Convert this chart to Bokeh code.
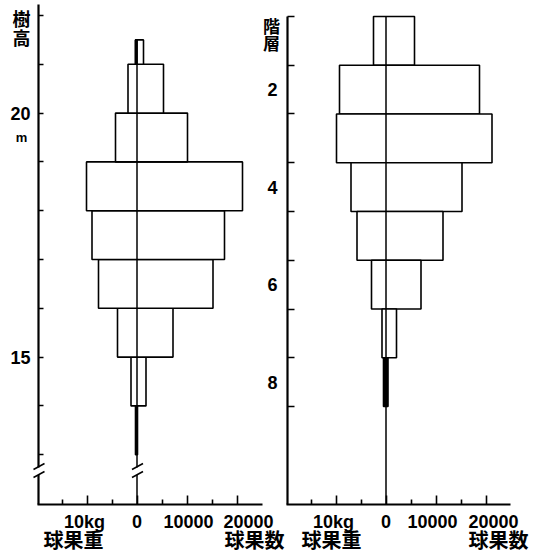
from bokeh.plotting import figure
from bokeh.models import Range1d, LinearAxis, FixedTicker, Label
from bokeh.embed import file_html
from bokeh.resources import INLINE

# ---------------- data ----------------
# left panel: by tree height (m)
height_bottom_m = [13, 14, 15, 16, 17, 18, 19, 20, 21]
height_top_m = [14, 15, 16, 17, 18, 19, 20, 21, 21.5]
height_weight_kg = [0.3, 1.2, 3.9, 7.7, 9.0, 10.1, 4.3, 1.8, 0.3]
height_count = [100, 1800, 7200, 15200, 17500, 21100, 10100, 5300, 1300]

# right panel: by crown layer (1 = top)
layers = [1, 2, 3, 4, 5, 6, 7, 8]
layer_weight_kg = [2.5, 9.3, 9.9, 7.0, 5.8, 2.9, 0.8, 0.5]
layer_count = [5700, 18700, 21200, 15200, 11400, 7000, 2100, 400]

x_tick_values = [-10000, 0, 10000, 20000]
x_tick_labels = ["10kg", "0", "10000", "20000"]
x_minor_values = [-15000, -5000, 5000, 15000]
height_label_ticks = [15, 20]
height_minor_ticks = [13, 14, 16, 17, 18, 19, 21, 22]
layer_label_ticks = [2, 4, 6, 8]
layer_boundaries = [0.5, 1.5, 2.5, 3.5, 4.5, 5.5, 6.5, 7.5, 8.5]

KG = 1000  # 1 kg drawn as long as 1000 cones

# ---------------- scales ----------------
PX_X = 200.0          # data units per pixel (both panels)
PX_H = 1 / 48.8       # metres per pixel

FONT = "Liberation Sans"
CJK = "Noto Sans CJK JP"

p = figure(width=539, height=553, output_backend="svg", toolbar_location=None,
           x_axis_location=None, y_axis_location=None,
           x_range=Range1d(-27300, 80500), y_range=Range1d(10.975, 22.307),
           min_border=0, min_border_left=0, min_border_right=0,
           min_border_top=0, min_border_bottom=0)
p.extra_x_ranges = {"r": Range1d(-77100, 30700)}
p.extra_y_ranges = {"r": Range1d(11.515, 0.172)}
p.outline_line_color = None
p.background_fill_color = "white"
p.border_fill_color = "white"
p.grid.visible = False

h_axis_x = -19700
h_base = 11.979
h_top = 22.225
l_axis_x = -19700
l_base = 10.51


def style_axis(ax):
    ax.axis_line_color = "black"
    ax.axis_line_width = 2.2
    ax.major_tick_line_color = "black"
    ax.major_tick_line_width = 1.6
    ax.minor_tick_line_color = "black"
    ax.minor_tick_line_width = 1.6
    ax.major_tick_out = 0
    ax.minor_tick_out = 0
    ax.major_label_text_font = FONT
    ax.major_label_text_font_style = "bold"
    ax.major_label_text_font_size = "18px"
    ax.major_label_text_color = "black"


# left panel y axis (height)
ax_h = LinearAxis(fixed_location=h_axis_x, bounds=(h_base, h_top),
                  ticker=FixedTicker(ticks=height_label_ticks, minor_ticks=height_minor_ticks))
style_axis(ax_h)
ax_h.major_tick_in = 5
ax_h.minor_tick_in = 5
ax_h.major_label_standoff = 8
p.add_layout(ax_h, "left")

# right panel y axis (layers)
ax_l = LinearAxis(x_range_name="r", y_range_name="r", fixed_location=l_axis_x,
                  bounds=(0.5, l_base),
                  ticker=FixedTicker(ticks=layer_label_ticks, minor_ticks=layer_boundaries))
style_axis(ax_l)
ax_l.major_tick_in = 0
ax_l.minor_tick_in = 7
ax_l.major_label_standoff = 10
p.add_layout(ax_l, "left")

blank = {v: "" for v in x_tick_values}

ax_bl = LinearAxis(fixed_location=h_base, bounds=(-20000, 25100),
                   ticker=FixedTicker(ticks=x_tick_values, minor_ticks=x_minor_values),
                   major_label_overrides=blank)
style_axis(ax_bl)
ax_bl.major_tick_in = 9
ax_bl.minor_tick_in = 5
p.add_layout(ax_bl, "below")

ax_br = LinearAxis(x_range_name="r", y_range_name="r", fixed_location=l_base,
                   bounds=(-20000, 24900),
                   ticker=FixedTicker(ticks=x_tick_values, minor_ticks=x_minor_values),
                   major_label_overrides=blank)
style_axis(ax_br)
ax_br.major_tick_in = 9
ax_br.minor_tick_in = 5
p.add_layout(ax_br, "below")

# ---------------- bars ----------------
h_left = [-w * KG for w in height_weight_kg]
p.quad(left=h_left, right=height_count, bottom=height_bottom_m, top=height_top_m,
       fill_color=["black" if c < 1000 else "white" for c in height_count],
       line_color="black", line_width=1.6)
# very small weight parts drawn solid
small = [i for i, w in enumerate(height_weight_kg) if w < 0.5 and height_count[i] >= 1000]
p.quad(left=[h_left[i] for i in small], right=[0 for i in small],
       bottom=[height_bottom_m[i] for i in small], top=[height_top_m[i] for i in small],
       fill_color="black", line_color="black", line_width=1.6)

l_left = [-w * KG for w in layer_weight_kg]
p.quad(left=l_left, right=layer_count,
       bottom=[k + 0.5 for k in layers], top=[k - 0.5 for k in layers],
       fill_color=["black" if c < 1000 else "white" for c in layer_count],
       line_color="black", line_width=1.6,
       x_range_name="r", y_range_name="r")

# centre lines
p.segment(x0=[0], y0=[h_base], x1=[0], y1=[max(height_top_m)],
          line_color="black", line_width=1.5)
p.segment(x0=[0], y0=[min(layers) - 0.5], x1=[0], y1=[l_base],
          line_color="black", line_width=1.5,
          x_range_name="r", y_range_name="r")

# ---------------- axis breaks (left panel) ----------------
yb = 12.635
for x0 in (h_axis_x, 0):
    p.quad(left=[x0 - 2.5 * PX_X], right=[x0 + 2.5 * PX_X],
           bottom=[yb - 2.5 * PX_H], top=[yb + 5 * PX_H],
           fill_color="white", line_color=None, level="overlay")
    p.segment(x0=[x0 - 5 * PX_X, x0 - 5 * PX_X],
              y0=[yb + 3 * PX_H, yb - 5 * PX_H],
              x1=[x0 + 6 * PX_X, x0 + 6 * PX_X],
              y1=[yb + 9 * PX_H, yb + 1 * PX_H],
              line_color="black", line_width=1.5, level="overlay")


# ---------------- texts ----------------
def lab(text, x, y, xo=0, yo=0, size="18px", font=CJK, rng=None, baseline="middle"):
    kw = {}
    if rng:
        kw = dict(x_range_name=rng, y_range_name=rng)
    p.add_layout(Label(x=x, y=y, x_offset=xo, y_offset=yo, text=text,
                       text_font=font, text_font_style="bold", text_font_size=size,
                       text_align="center", text_baseline=baseline,
                       text_color="black", **kw))


# x tick labels (placed at the tick values)
left_label_shift = [-2.5, 0, 1.5, 11.5]
right_label_shift = [-2.5, 0, -3.5, 7.5]
for v, t, s in zip(x_tick_values, x_tick_labels, left_label_shift):
    lab(t, v, h_base, s, -17, "18px", FONT, None, "alphabetic")
for v, t, s in zip(x_tick_values, x_tick_labels, right_label_shift):
    lab(t, v, l_base, s, -17, "18px", FONT, "r", "alphabetic")

lab("樹", h_axis_x, 22, -17, -2.5, "18px")
lab("高", h_axis_x, 22, -17, -21.5, "18px")
lab("m", h_axis_x, 19.5, -17, 0, "13px", FONT)
lab("球果重", -10000, h_base, -13.5, -35, "20px")
lab("球果数", 20000, h_base, 17.5, -35, "20px")

lab("階", l_axis_x, 0.5, -16, -9.5, "17px", CJK, "r")
lab("層", l_axis_x, 0.5, -16, -26.5, "17px", CJK, "r")
lab("球果重", -10000, l_base, -4.5, -35, "20px", CJK, "r")
lab("球果数", 20000, l_base, 12.5, -35, "20px", CJK, "r")

open("out.html", "w").write(file_html(p, INLINE))
